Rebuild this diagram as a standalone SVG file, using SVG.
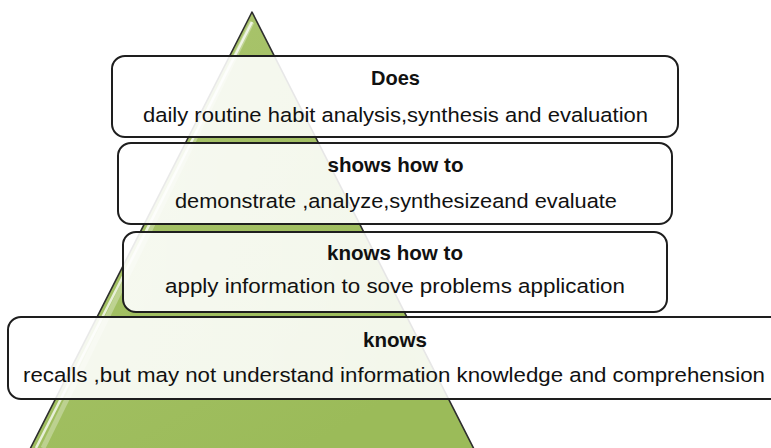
<svg xmlns="http://www.w3.org/2000/svg" width="771" height="448" viewBox="0 0 771 448">
  <defs>
    <linearGradient id="pyr" x1="0" y1="0" x2="0.6" y2="1">
      <stop offset="0" stop-color="#e4edc9"/>
      <stop offset="0.12" stop-color="#a9c46c"/>
      <stop offset="1" stop-color="#9bbb59"/>
    </linearGradient>
    <linearGradient id="boxfill" x1="0" y1="0" x2="1" y2="0">
      <stop offset="0" stop-color="#ffffff" stop-opacity="0.9"/>
      <stop offset="0.5" stop-color="#ffffff" stop-opacity="0.88"/>
      <stop offset="1" stop-color="#ffffff" stop-opacity="0.92"/>
    </linearGradient>
    <style>
      .box { fill: url(#boxfill); stroke: #1e1e1e; stroke-width: 2; }
      .t { font-family: "Liberation Sans", Arial, sans-serif; font-size: 20.5px; fill: #111111; text-anchor: middle; }
      .b { font-weight: bold; }
    </style>
  </defs>

  <g id="pyramid">
    <polygon points="252,12 27,455 477,455" fill="url(#pyr)" stroke="#2e2e2e" stroke-width="1.6" stroke-linejoin="round"/>
    <polyline points="252,22 36,448" fill="none" stroke="#ffffff" stroke-opacity="0.75" stroke-width="2.5"/>
    <polyline points="252,22 43,448" fill="none" stroke="#ffffff" stroke-opacity="0.3" stroke-width="5"/>
  </g>

  <g id="connectors"></g>

  <g id="node-does">
    <rect class="box" x="112" y="56" width="566" height="81" rx="13"/>
    <text class="t b" x="395.5" y="85" textLength="49" lengthAdjust="spacingAndGlyphs">Does</text>
    <text class="t" x="395.5" y="122" textLength="505" lengthAdjust="spacingAndGlyphs">daily routine habit analysis,synthesis and evaluation</text>
  </g>

  <g id="node-shows-how">
    <rect class="box" x="118" y="143" width="554" height="81" rx="13"/>
    <text class="t b" x="395.5" y="172" textLength="136" lengthAdjust="spacingAndGlyphs">shows how to</text>
    <text class="t" x="396" y="208" textLength="442" lengthAdjust="spacingAndGlyphs">demonstrate ,analyze,synthesizeand evaluate</text>
  </g>

  <g id="node-knows-how">
    <rect class="box" x="123" y="232" width="544" height="80" rx="13"/>
    <text class="t b" x="395" y="260" textLength="136" lengthAdjust="spacingAndGlyphs">knows how to</text>
    <text class="t" x="395" y="293" textLength="460" lengthAdjust="spacingAndGlyphs">apply information to sove problems application</text>
  </g>

  <g id="node-knows">
    <rect class="box" x="8" y="317" width="778" height="82" rx="13"/>
    <text class="t b" x="395" y="347" textLength="64" lengthAdjust="spacingAndGlyphs">knows</text>
    <text class="t" x="394" y="382" textLength="742" lengthAdjust="spacingAndGlyphs">recalls ,but may not understand information knowledge and comprehension</text>
  </g>
</svg>
